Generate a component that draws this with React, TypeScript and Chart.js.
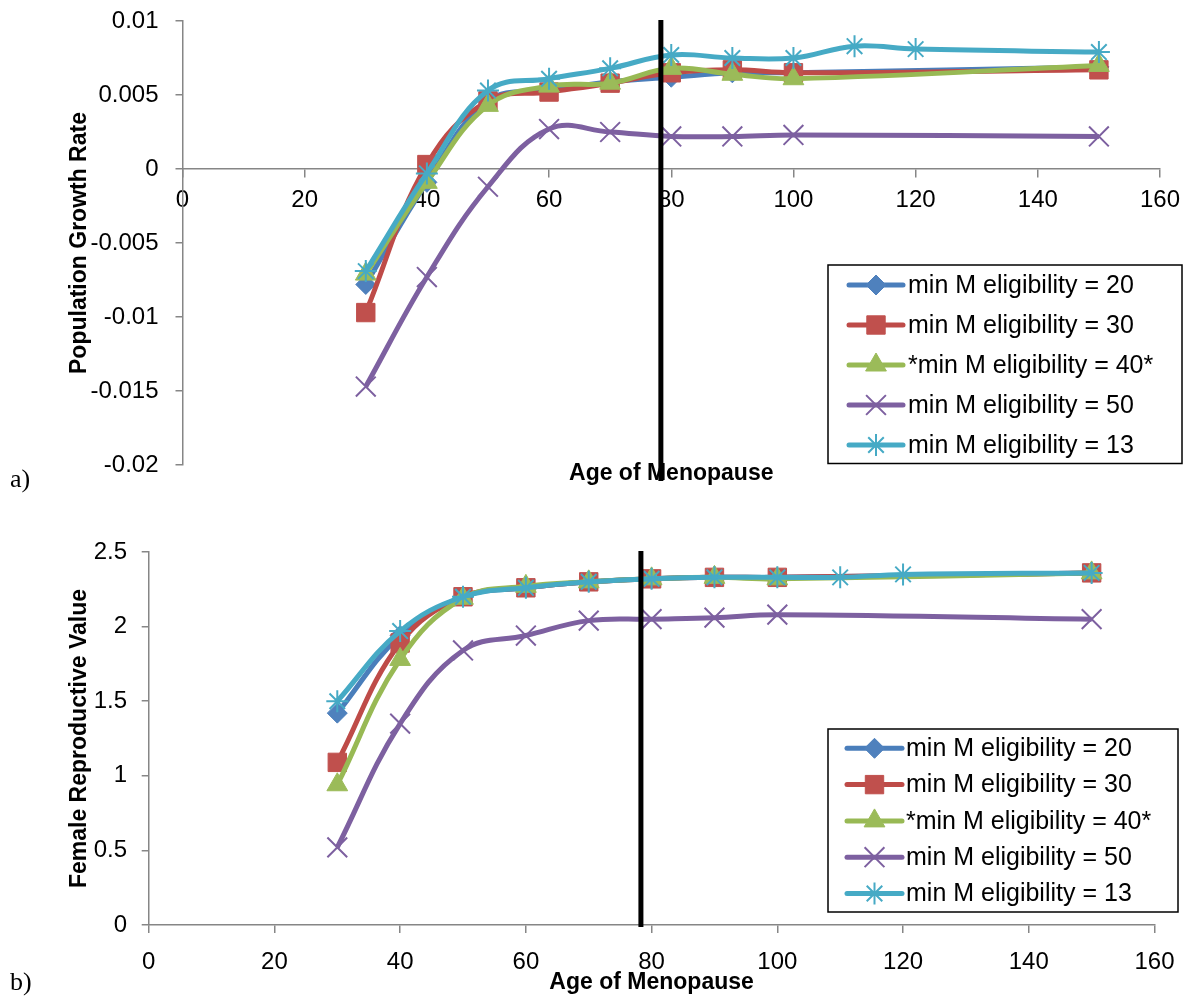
import React, { useEffect, useRef } from 'react';
import { Chart, registerables } from 'chart.js';

Chart.register(...registerables);

// ---------------- data ----------------
const AGES = [30, 40, 50, 60, 70, 80, 90, 100, 150];
const AGES_13 = [30, 40, 50, 60, 70, 80, 90, 100, 110, 120, 150];

const SERIES_LABELS = [
  'min M eligibility = 20',
  'min M eligibility = 30',
  '*min M eligibility = 40*',
  'min M eligibility = 50',
  'min M eligibility = 13',
];

const GROWTH_20 = [-0.0078, -0.0009, 0.0046, 0.0053, 0.0059, 0.0062, 0.0065, 0.0065, 0.0069];
const GROWTH_30 = [-0.0097, 0.0003, 0.0046, 0.0052, 0.0058, 0.0065, 0.0067, 0.0065, 0.0067];
const GROWTH_40 = [-0.0071, -0.0009, 0.0043, 0.0056, 0.0058, 0.0068, 0.0064, 0.0061, 0.007];
const GROWTH_50 = [-0.0147, -0.0073, -0.0012, 0.0027, 0.0025, 0.0022, 0.0022, 0.0023, 0.0022];
const GROWTH_13 = [-0.0069, -0.0003, 0.0053, 0.0061, 0.0068, 0.0077, 0.0075, 0.0075, 0.0083, 0.0081, 0.0079];

const REPRO_20 = [1.42, 1.94, 2.2, 2.26, 2.3, 2.32, 2.33, 2.33, 2.36];
const REPRO_30 = [1.09, 1.89, 2.2, 2.26, 2.3, 2.32, 2.33, 2.33, 2.36];
const REPRO_40 = [0.94, 1.78, 2.19, 2.27, 2.3, 2.32, 2.33, 2.32, 2.36];
const REPRO_50 = [0.52, 1.35, 1.84, 1.94, 2.04, 2.05, 2.06, 2.08, 2.05];
const REPRO_13 = [1.5, 1.97, 2.2, 2.26, 2.3, 2.32, 2.33, 2.33, 2.33, 2.35, 2.36];

const X_TICKS = [0, 20, 40, 60, 80, 100, 120, 140, 160];
const Y_TICKS_GROWTH = [-0.02, -0.015, -0.01, -0.005, 0, 0.005, 0.01];
const Y_TICKS_REPRO = [0, 0.5, 1, 1.5, 2, 2.5];
const MENOPAUSE_MARK = 78.3;

const X_TITLE = 'Age of Menopause';
const Y_TITLE_A = 'Population Growth Rate';
const Y_TITLE_B = 'Female Reproductive Value';

// ---------------- styles ----------------
const FONT = '"Liberation Sans", Arial, sans-serif';
const TICK_SIZE = 24;
const LEGEND_SIZE = 25;
const TITLE_SIZE = 23;
const AXIS_COLOR = '#868686';
const SERIES_STYLES = [
  { line: '#4A7EBB', fill: '#4F81BD', point: 'rectRot', r: 10, bw: 1 },
  { line: '#BE4B48', fill: '#C0504D', point: 'rect', r: 13, bw: 1 },
  { line: '#98B954', fill: '#9BBB59', point: 'triangle', r: 12, bw: 1 },
  { line: '#7D60A0', fill: '#8064A2', point: 'crossRot', r: 14, bw: 2 },
  { line: '#46AAC5', fill: '#4BACC6', point: 'star', r: 11, bw: 2 },
];

function makeDatasets(xsList: number[][], ysList: number[][]) {
  return ysList.map((ys, i) => {
    const st = SERIES_STYLES[i];
    return {
      label: SERIES_LABELS[i],
      data: ys.map((y, j) => ({ x: xsList[i][j], y })),
      showLine: true,
      borderColor: st.line,
      backgroundColor: st.fill,
      borderWidth: 5,
      tension: 0.4,
      pointStyle: st.point,
      pointRadius: st.r,
      pointHoverRadius: st.r,
      pointBackgroundColor: st.fill,
      pointBorderColor: st.point === 'crossRot' || st.point === 'star' ? st.line : st.fill,
      pointBorderWidth: st.bw,
      order: ysList.length - i,
    };
  });
}

function drawMarker(ctx: CanvasRenderingContext2D, style: string, x: number, y: number, r: number, fill: string, stroke: string, bw: number) {
  ctx.save();
  ctx.fillStyle = fill;
  ctx.strokeStyle = stroke;
  ctx.lineWidth = bw;
  ctx.lineCap = 'butt';
  ctx.beginPath();
  const d = r * Math.SQRT1_2;
  if (style === 'rectRot') {
    ctx.moveTo(x - r, y);
    ctx.lineTo(x, y - r);
    ctx.lineTo(x + r, y);
    ctx.lineTo(x, y + r);
    ctx.closePath();
    ctx.fill();
    ctx.stroke();
  } else if (style === 'rect') {
    ctx.rect(x - d, y - d, 2 * d, 2 * d);
    ctx.fill();
    ctx.stroke();
  } else if (style === 'triangle') {
    ctx.moveTo(x, y - r);
    ctx.lineTo(x + r * Math.sin(Math.PI / 3), y + r / 2);
    ctx.lineTo(x - r * Math.sin(Math.PI / 3), y + r / 2);
    ctx.closePath();
    ctx.fill();
    ctx.stroke();
  } else if (style === 'crossRot') {
    ctx.moveTo(x - d, y - d);
    ctx.lineTo(x + d, y + d);
    ctx.moveTo(x - d, y + d);
    ctx.lineTo(x + d, y - d);
    ctx.stroke();
  } else if (style === 'star') {
    ctx.moveTo(x, y - r);
    ctx.lineTo(x, y + r);
    ctx.moveTo(x - r, y);
    ctx.lineTo(x + r, y);
    ctx.moveTo(x - d, y - d);
    ctx.lineTo(x + d, y + d);
    ctx.moveTo(x - d, y + d);
    ctx.lineTo(x + d, y - d);
    ctx.stroke();
  }
  ctx.restore();
}

const overlayPlugin = {
  id: 'overlay',
  afterDraw(chart: any, _args: any, o: any) {
    if (!o || !o.legend) return;
    const { ctx, chartArea: ca } = chart;
    const xs = chart.scales.x;
    const ys = chart.scales.y;
    ctx.save();
    // x axis title
    ctx.fillStyle = '#000';
    ctx.font = `bold ${TITLE_SIZE}px ${FONT}`;
    ctx.textAlign = 'center';
    ctx.textBaseline = 'middle';
    ctx.fillText(o.xTitle, (ca.left + ca.right) / 2, o.xTitleY);
    // vertical marker line
    const px = xs.getPixelForValue(o.markX);
    ctx.strokeStyle = '#000';
    ctx.lineWidth = 5;
    ctx.beginPath();
    ctx.moveTo(px, ys.getPixelForValue(ys.max) - 1);
    ctx.lineTo(px, o.markBottom);
    ctx.stroke();
    // legend
    const L = o.legend;
    ctx.fillStyle = '#fff';
    ctx.fillRect(L.left, L.top, L.right - L.left, L.bottom - L.top);
    ctx.strokeStyle = '#000';
    ctx.lineWidth = 1.5;
    ctx.strokeRect(L.left, L.top, L.right - L.left, L.bottom - L.top);
    chart.data.datasets.forEach((ds: any, i: number) => {
      const y = L.top + L.first + i * L.gap;
      ctx.strokeStyle = ds.borderColor;
      ctx.lineWidth = 5;
      ctx.lineCap = 'round';
      ctx.beginPath();
      ctx.moveTo(L.lineX0, y);
      ctx.lineTo(L.lineX1, y);
      ctx.stroke();
      drawMarker(ctx, ds.pointStyle, (L.lineX0 + L.lineX1) / 2, y, ds.pointRadius, ds.pointBackgroundColor, ds.pointBorderColor, ds.pointBorderWidth);
      ctx.fillStyle = '#000';
      ctx.font = `${LEGEND_SIZE}px ${FONT}`;
      ctx.textAlign = 'left';
      ctx.textBaseline = 'middle';
      ctx.fillText(ds.label, L.textX, y + 1);
    });
    ctx.restore();
  },
};

const fmt = (v: any) => String(Number(Number(v).toFixed(4)));

function buildConfig(p: any) {
  const xScale: any = {
    type: 'linear',
    min: 0,
    max: 160,
    position: p.xAtZero ? { y: 0 } : 'bottom',
    afterBuildTicks: (s: any) => {
      s.ticks = X_TICKS.map((v) => ({ value: v }));
    },
    ticks: { font: { family: FONT, size: TICK_SIZE }, color: '#000', padding: p.xTickPad, maxRotation: 0, autoSkip: false, callback: fmt },
    grid: { drawOnChartArea: false, drawTicks: true, tickLength: 8, color: AXIS_COLOR, lineWidth: 1.5 },
    border: { display: true, color: AXIS_COLOR, width: 1.5 },
  };
  if (!p.xAtZero) {
    xScale.afterFit = (s: any) => {
      s.height = p.xHeight;
    };
  }
  const yScale: any = {
    type: 'linear',
    min: p.yTicks[0],
    max: p.yTicks[p.yTicks.length - 1],
    afterBuildTicks: (s: any) => {
      s.ticks = p.yTicks.map((v: number) => ({ value: v }));
    },
    afterFit: (s: any) => {
      s.width = p.yWidth;
      s.paddingTop = 0;
      s.paddingBottom = 0;
    },
    ticks: { font: { family: FONT, size: TICK_SIZE }, color: '#000', padding: p.yTickPad, autoSkip: false, callback: fmt },
    grid: { drawOnChartArea: false, drawTicks: true, tickLength: 7, color: AXIS_COLOR, lineWidth: 1.5 },
    border: { display: true, color: AXIS_COLOR, width: 1.5 },
    title: {
      display: true,
      text: p.yTitle,
      color: '#000',
      font: { family: FONT, size: TITLE_SIZE, weight: 'bold' },
      padding: { top: 66, bottom: 0 },
    },
  };
  return {
    type: 'scatter',
    data: { datasets: p.datasets },
    options: {
      responsive: false,
      animation: false,
      devicePixelRatio: 1,
      layout: { padding: p.padding },
      scales: { x: xScale, y: yScale },
      plugins: {
        legend: { display: false },
        tooltip: { enabled: false },
        overlay: p.overlay,
      },
    },
    plugins: [overlayPlugin],
  };
}

function ChartCanvas({ config, width, height }: any) {
  const ref = useRef<HTMLCanvasElement | null>(null);
  useEffect(() => {
    if (!ref.current) return;
    const chart = new Chart(ref.current, config);
    return () => chart.destroy();
  }, []);
  return <canvas ref={ref} width={width} height={height} style={{ display: 'block', width, height }} />;
}

export default function App() {
  const topConfig = buildConfig({
    datasets: makeDatasets([AGES, AGES, AGES, AGES, AGES_13], [GROWTH_20, GROWTH_30, GROWTH_40, GROWTH_50, GROWTH_13]),
    yTicks: Y_TICKS_GROWTH,
    yTitle: Y_TITLE_A,
    xAtZero: true,
    xTickPad: 9,
    yTickPad: 17,
    yWidth: 182.5,
    padding: { left: 0, top: 21, right: 30, bottom: 35 },
    overlay: {
      xTitle: X_TITLE,
      xTitleY: 474,
      markX: MENOPAUSE_MARK,
      markBottom: 481,
      legend: { left: 828, top: 265, right: 1182, bottom: 463.5, first: 20, gap: 40, lineX0: 849, lineX1: 903, textX: 908 },
    },
  });
  const bottomConfig = buildConfig({
    datasets: makeDatasets([AGES, AGES, AGES, AGES, AGES_13], [REPRO_20, REPRO_30, REPRO_40, REPRO_50, REPRO_13]),
    yTicks: Y_TICKS_REPRO,
    yTitle: Y_TITLE_B,
    xAtZero: false,
    xHeight: 82,
    xTickPad: 15,
    yTickPad: 14.7,
    yWidth: 148.7,
    padding: { left: 0, top: 52, right: 35.5, bottom: 0 },
    overlay: {
      xTitle: X_TITLE,
      xTitleY: 483,
      markX: MENOPAUSE_MARK,
      markBottom: 427,
      legend: { left: 828, top: 229, right: 1178, bottom: 412, first: 19.3, gap: 36.3, lineX0: 847, lineX1: 902, textX: 906 },
    },
  });
  const sideLabel: React.CSSProperties = {
    position: 'absolute',
    left: 10,
    fontFamily: '"Liberation Serif", "Times New Roman", serif',
    fontSize: 26,
    lineHeight: 1,
    color: '#000',
  };
  return (
    <div style={{ position: 'absolute', left: 0, top: 0, width: 1190, height: 1007, background: '#fff', overflow: 'hidden' }}>
      <div style={{ position: 'absolute', left: 0, top: 0 }}>
        <ChartCanvas config={topConfig} width={1190} height={500} />
      </div>
      <div style={{ position: 'absolute', left: 0, top: 500 }}>
        <ChartCanvas config={bottomConfig} width={1190} height={507} />
      </div>
      <span style={{ ...sideLabel, top: 466 }}>a)</span>
      <span style={{ ...sideLabel, top: 969 }}>b)</span>
    </div>
  );
}
